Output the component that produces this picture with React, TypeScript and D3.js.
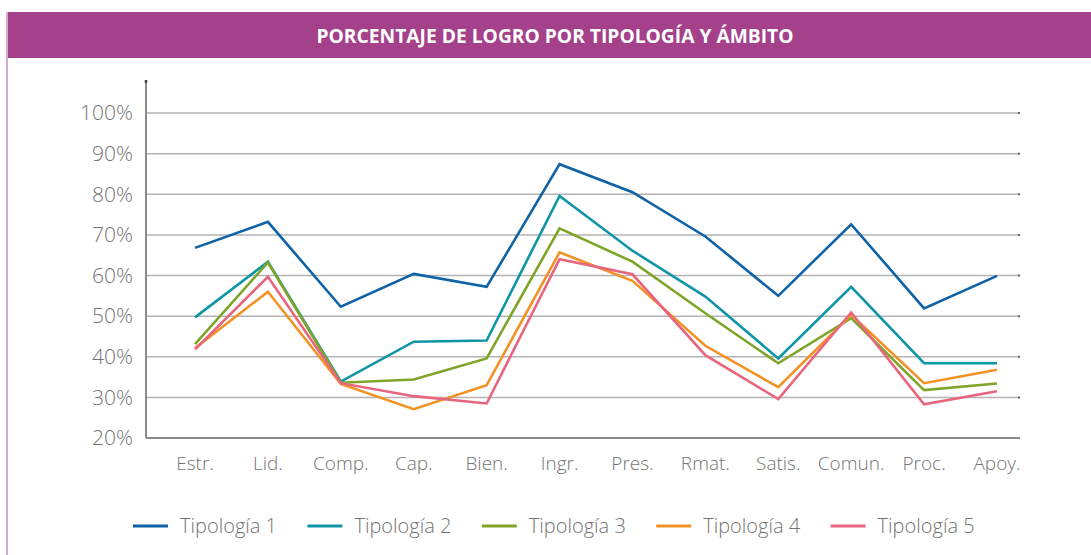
import React from 'react'
import * as d3 from 'd3'

const title = 'PORCENTAJE DE LOGRO POR TIPOLOGÍA Y ÁMBITO'
const categories = ['Estr.', 'Lid.', 'Comp.', 'Cap.', 'Bien.', 'Ingr.', 'Pres.', 'Rmat.', 'Satis.', 'Comun.', 'Proc.', 'Apoy.']
const seriesNames = ['Tipología 1', 'Tipología 2', 'Tipología 3', 'Tipología 4', 'Tipología 5']
const tipologia1 = [66.8, 73.2, 52.3, 60.4, 57.2, 87.4, 80.5, 69.6, 55.0, 72.6, 51.9, 59.9]
const tipologia2 = [49.7, 63.4, 33.9, 43.7, 44.0, 79.6, 66.1, 54.8, 39.6, 57.2, 38.4, 38.4]
const tipologia3 = [43.1, 63.2, 33.6, 34.4, 39.6, 71.6, 63.4, 50.7, 38.4, 49.5, 31.8, 33.4]
const tipologia4 = [42.1, 56.0, 33.3, 27.1, 33.0, 65.7, 58.7, 42.7, 32.5, 50.3, 33.5, 36.8]
const tipologia5 = [41.8, 59.7, 33.5, 30.3, 28.5, 64.0, 60.3, 40.4, 29.6, 50.9, 28.3, 31.5]
const seriesValues = [tipologia1, tipologia2, tipologia3, tipologia4, tipologia5]
const colors = ['#0f62a5', '#0f95a6', '#7ea428', '#f39224', '#e7667e']
const yTicks = [20, 30, 40, 50, 60, 70, 80, 90, 100]

const W = 1091
const H = 555
const axisX = 146
const gridRight = 1020
const font = "'Open Sans', 'DejaVu Sans', sans-serif"

export default function App() {
  const x = d3.scalePoint<string>().domain(categories).range([195, 997])
  const y = d3.scaleLinear().domain([20, 100]).range([438, 113])
  const line = d3.line<number>()
    .x((d, i) => x(categories[i]) as number)
    .y(d => y(d))

  return (
    <div style={{ position: 'absolute', left: 0, top: 0 }}>
      <svg width={W} height={H} style={{ display: 'block', background: '#fff' }}>
        <rect x={8} y={12} width={W - 8} height={46} fill="#a4418a" />
        <line x1={7} x2={7} y1={12} y2={H} stroke="#c792b9" strokeWidth={1.5} />
        <text x={555} y={43} textAnchor="middle" fill="#fff" fontFamily={font}
          fontWeight={700} fontSize={20} textLength={477} lengthAdjust="spacingAndGlyphs">
          {title}
        </text>

        {yTicks.map(t => (
          <g key={t}>
            {t > 20 && (
              <line x1={axisX} x2={gridRight} y1={y(t)} y2={y(t)} stroke="#b3b3b3" strokeWidth={1.5} />
            )}
            <line x1={gridRight - 2} x2={gridRight} y1={y(t)} y2={y(t)} stroke="#666" strokeWidth={2} />
            <text x={133} y={y(t)} dy="0.35em" textAnchor="end" fill="#747474"
              fontFamily={font} fontWeight={300} fontSize={21}>{t}%</text>
          </g>
        ))}
        <line x1={axisX} x2={gridRight} y1={y(20)} y2={y(20)} stroke="#8a8a8a" strokeWidth={2} />
        <line x1={axisX} x2={axisX} y1={81} y2={y(20)} stroke="#8a8a8a" strokeWidth={2} />
        <line x1={axisX} x2={axisX} y1={80} y2={83} stroke="#444" strokeWidth={2.5} />

        {categories.map(c => (
          <text key={c} x={x(c)} y={463} dy="0.35em" textAnchor="middle" fill="#747474"
            fontFamily={font} fontWeight={300} fontSize={19}>{c}</text>
        ))}

        {seriesValues.map((vals, i) => (
          <path key={i} d={line(vals) || ''} fill="none" stroke={colors[i]} strokeWidth={2.6}
            strokeLinejoin="miter" />
        ))}

        {seriesNames.map((name, i) => {
          const lx = 133 + i * 174.4
          return (
            <g key={name}>
              <line x1={lx} x2={lx + 35} y1={526} y2={526} stroke={colors[i]} strokeWidth={3} />
              <text x={lx + 47} y={526} dy="0.35em" fill="#747474" fontFamily={font}
                fontWeight={300} fontSize={20}>{name}</text>
            </g>
          )
        })}
      </svg>
    </div>
  )
}
